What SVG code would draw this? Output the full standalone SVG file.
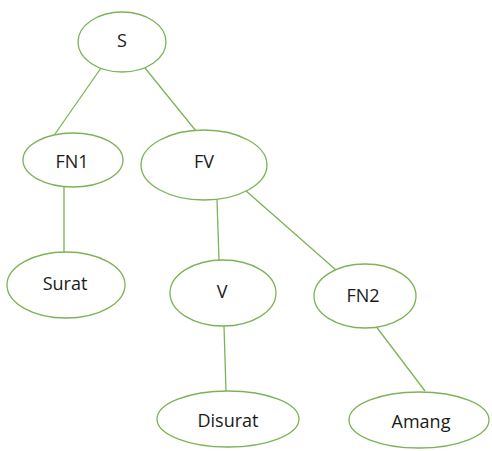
<svg xmlns="http://www.w3.org/2000/svg" width="492" height="451" viewBox="0 0 492 451">
<style>
.n{fill:#fff;stroke:#7cb356;stroke-width:1.3}
.e{stroke:#7cb356;stroke-width:1.3;fill:none}
text{font-family:"Open Sans","Liberation Sans",sans-serif;font-size:18px;fill:#1a1a1a;text-anchor:middle}
</style>
<rect width="492" height="451" fill="#fff"/>
<g id="connectors">
<line class="e" x1="101" y1="68" x2="55" y2="134"/>
<line class="e" x1="145" y1="68" x2="196" y2="131"/>
<line class="e" x1="64" y1="187" x2="64" y2="253"/>
<line class="e" x1="217" y1="200" x2="219" y2="260"/>
<line class="e" x1="245" y1="190" x2="336" y2="270"/>
<line class="e" x1="224" y1="326" x2="226" y2="391"/>
<line class="e" x1="375" y1="325" x2="425" y2="391"/>
</g>
<g id="S"><ellipse class="n" cx="122" cy="42" rx="44" ry="30"/><text x="122" y="47">S</text></g>
<g id="FN1"><ellipse class="n" cx="73" cy="160" rx="50" ry="27"/><text x="72" y="168">FN1</text></g>
<g id="FV"><ellipse class="n" cx="204" cy="165" rx="63" ry="35"/><text x="204" y="168">FV</text></g>
<g id="Surat"><ellipse class="n" cx="66" cy="285" rx="59" ry="33"/><text x="65" y="290">Surat</text></g>
<g id="V"><ellipse class="n" cx="223" cy="293" rx="53" ry="33"/><text x="222" y="298">V</text></g>
<g id="FN2"><ellipse class="n" cx="365" cy="296" rx="51" ry="32"/><text x="363" y="302">FN2</text></g>
<g id="Disurat"><ellipse class="n" cx="228" cy="419" rx="71" ry="28"/><text x="228" y="427">Disurat</text></g>
<g id="Amang"><ellipse class="n" cx="419" cy="420" rx="70" ry="28"/><text x="421" y="428">Amang</text></g>
</svg>
